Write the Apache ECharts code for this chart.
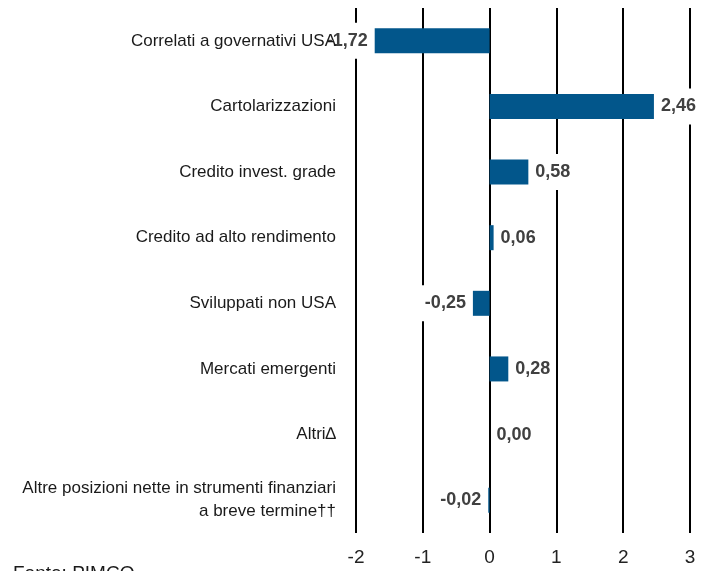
<!DOCTYPE html>
<html>
<head>
<meta charset="utf-8">
<style>
  html, body { margin: 0; padding: 0; background: #fff; }
  #chart { width: 711px; height: 571px; }
</style>
<script src="https://cdn.jsdelivr.net/npm/echarts@6/dist/echarts.min.js"></script>
</head>
<body>
<div id="chart"></div>
<script>
const categories = [
  'Correlati a governativi USA',
  'Cartolarizzazioni',
  'Credito invest. grade',
  'Credito ad alto rendimento',
  'Sviluppati non USA',
  'Mercati emergenti',
  'Altri\u2206',
  'Altre posizioni nette in strumenti finanziari\na breve termine\u2020\u2020'
];
const values = [-1.72, 2.46, 0.58, 0.06, -0.25, 0.28, 0.00, -0.02];
const xTicks = [-2, -1, 0, 1, 2, 3];
const sourceText = 'Fonte: PIMCO';

const FONT = "'Liberation Sans', Arial, sans-serif";

const chart = echarts.init(document.getElementById('chart'), null, { renderer: 'canvas' });

const barData = values.map(v => ({
  value: v,
  label: { position: v < 0 ? 'left' : 'right' }
}));

chart.setOption({
  animation: false,
  backgroundColor: '#fff',
  grid: { left: 356, right: 21, top: 8, bottom: 38, containLabel: false, outerBoundsMode: 'none' },
  xAxis: {
    type: 'value',
    min: xTicks[0],
    max: xTicks[xTicks.length - 1],
    interval: 1,
    axisLine: { show: false },
    axisTick: { show: false },
    axisLabel: {
      margin: 15,
      fontFamily: FONT,
      fontSize: 19,
      color: '#222',
      formatter: v => String(v)
    },
    splitLine: { show: true, lineStyle: { color: '#000', width: 2 } }
  },
  yAxis: {
    type: 'category',
    inverse: true,
    data: categories,
    z: 5,
    axisLine: { show: false },
    axisTick: { show: false },
    axisLabel: {
      margin: 20,
      fontFamily: FONT,
      fontSize: 17,
      color: '#1a1a1a',
      lineHeight: 23,
      align: 'right'
    },
    splitLine: { show: false }
  },
  series: [{
    type: 'bar',
    data: barData,
    barWidth: 25,
    itemStyle: { color: '#02568b' },
    label: {
      show: true,
      distance: 3,
      fontFamily: FONT,
      fontWeight: 'bold',
      fontSize: 18,
      color: '#404040',
      backgroundColor: '#fff',
      padding: [9, 4],
      formatter: p => p.value.toFixed(2).replace('.', ',')
    },
    z: 3
  }],
  graphic: [{
    type: 'text',
    left: 13,
    top: 564,
    style: {
      text: sourceText,
      font: '19px ' + FONT,
      fill: '#1a1a1a'
    }
  }]
});
</script>
</body>
</html>
